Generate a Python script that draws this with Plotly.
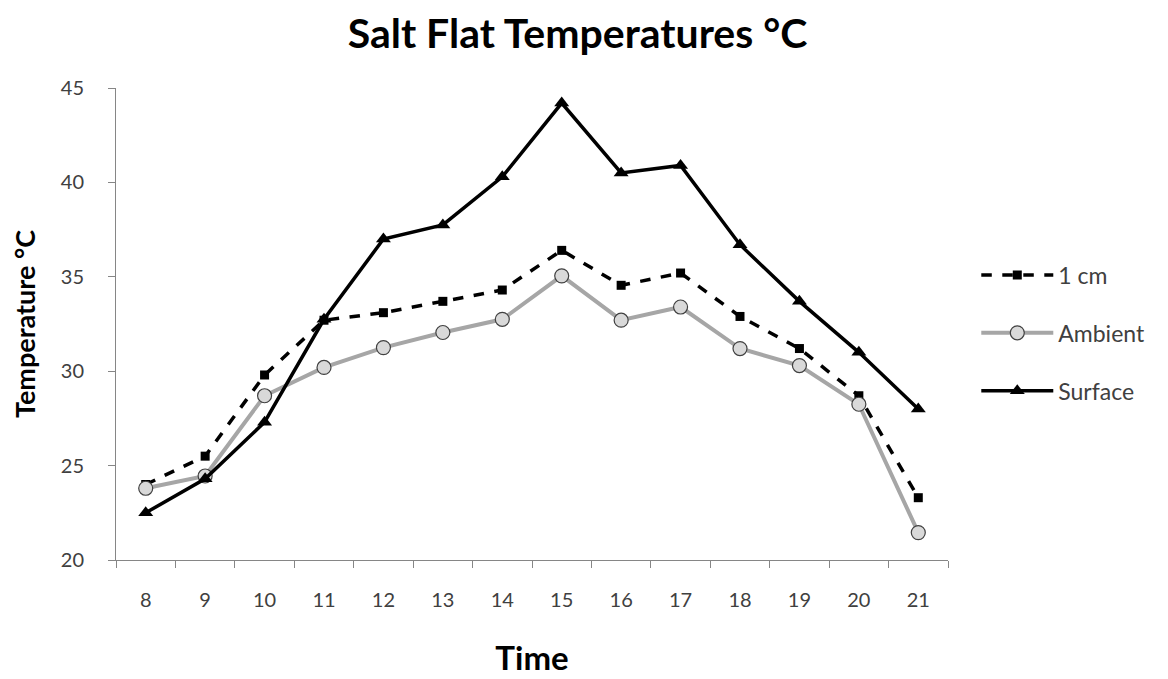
import plotly.graph_objects as go

hours = ["8", "9", "10", "11", "12", "13", "14", "15", "16", "17", "18", "19", "20", "21"]
one_cm = [24.0, 25.5, 29.8, 32.7, 33.1, 33.7, 34.3, 36.4, 34.55, 35.2, 32.9, 31.2, 28.7, 23.3]
ambient = [23.8, 24.45, 28.7, 30.2, 31.25, 32.05, 32.75, 35.05, 32.7, 33.4, 31.2, 30.3, 28.25, 21.45]
surface = [22.5, 24.3, 27.3, 32.75, 37.0, 37.75, 40.3, 44.2, 40.5, 40.9, 36.7, 33.7, 31.0, 28.0]
y_ticks = [20, 25, 30, 35, 40, 45]

FONT = "Lato, 'Open Sans', sans-serif"

fig = go.Figure()
fig.add_trace(go.Scatter(
    x=hours, y=one_cm, name="1 cm", mode="lines+markers", legendgroup="a",
    line=dict(color="black", width=3.5, dash="dash"),
    marker=dict(symbol="square", size=9, color="black"),
))
fig.add_trace(go.Scatter(
    x=hours, y=ambient, name="Ambient", mode="lines+markers", legendgroup="b",
    line=dict(color="#A6A6A6", width=4),
    marker=dict(symbol="circle", size=14, color="#D9D9D9", line=dict(color="#404040", width=1.2)),
))
fig.add_trace(go.Scatter(
    x=hours, y=surface, name="Surface", mode="lines+markers", legendgroup="c",
    line=dict(color="black", width=3.5),
    marker=dict(symbol="triangle-up", size=13, color="black"),
))

fig.update_layout(
    width=1160, height=671,
    margin=dict(l=108, r=220, t=80, b=119, autoexpand=False),
    paper_bgcolor="white", plot_bgcolor="white",
    font=dict(family=FONT, color="#404040", size=20),
    title=dict(text="<b>Salt Flat Temperatures °C</b>", x=0.491, xanchor="center",
               y=0.962, yanchor="middle",
               font=dict(family=FONT, size=41, color="black")),
    legend=dict(x=1.034, xanchor="left", y=0.481, yanchor="middle",
                font=dict(size=23, color="#404040"), itemwidth=72,
                tracegroupgap=25, bgcolor="rgba(0,0,0,0)"),
    xaxis=dict(
        type="category", range=[-0.5, 13.5], tickson="boundaries", automargin=False,
        showline=True, linecolor="#868686", linewidth=1,
        ticks="outside", ticklen=7, tickcolor="#868686",
        showgrid=False, zeroline=False, ticklabelstandoff=22,
        title=dict(text="<b>Time</b>", font=dict(family=FONT, size=33, color="black"), standoff=36),
    ),
    yaxis=dict(
        range=[20, 45], tickvals=y_ticks, automargin=False,
        showline=True, linecolor="#868686", linewidth=1,
        ticks="outside", ticklen=7, tickcolor="#868686",
        showgrid=False, zeroline=False, ticklabelstandoff=20,
        title=dict(text="<b>Temperature °C</b>", font=dict(family=FONT, size=27, color="black"), standoff=24),
    ),
)

fig.write_html("out.html")
